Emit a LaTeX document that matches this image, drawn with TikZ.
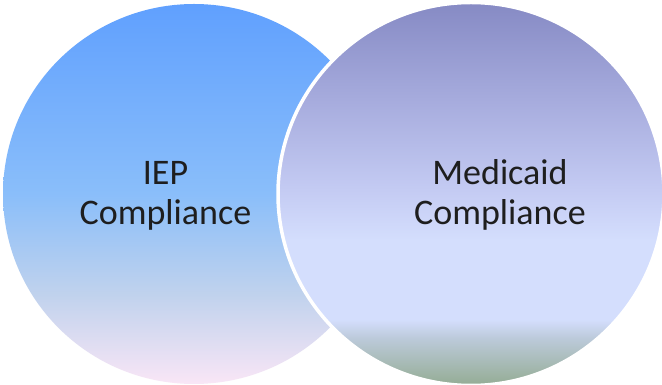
\documentclass[tikz,border=0pt]{standalone}
\usepackage{fontspec}
\setmainfont{Carlito}
\usepackage{tikz}

\definecolor{ieptop}{RGB}{96,160,254}
\definecolor{iepmid}{RGB}{138,190,250}
\definecolor{ieplow}{RGB}{192,210,237}
\definecolor{iepbot}{RGB}{249,230,246}
\definecolor{medtop}{RGB}{134,138,196}
\definecolor{medupper}{RGB}{166,171,221}
\definecolor{medmid}{RGB}{196,203,243}
\definecolor{medpale}{RGB}{212,222,253}
\definecolor{medgrey}{RGB}{188,202,218}
\definecolor{medbot}{RGB}{148,172,148}
\definecolor{labeltext}{RGB}{30,30,30}

% bbox of the path runs from 25bp (bottom) to 75bp (top)
\pgfdeclareverticalshading{iepfill}{100bp}{color(0bp)=(iepbot); color(25bp)=(iepbot);
  color(36.8bp)=(ieplow); color(50bp)=(iepmid); color(75bp)=(ieptop); color(100bp)=(ieptop)}
\pgfdeclareverticalshading{medfill}{100bp}{color(0bp)=(medbot); color(25bp)=(medbot);
  color(31.2bp)=(medgrey); color(33.6bp)=(medpale); color(44bp)=(medpale);
  color(50.5bp)=(medmid); color(62.4bp)=(medupper); color(75bp)=(medtop); color(100bp)=(medtop)}

\begin{document}
\begin{tikzpicture}[x=1pt,y=1pt,
		lbl/.style={anchor=base,inner sep=0pt,text=labeltext,font=\fontsize{36}{40}\selectfont}]
			\useasboundingbox (0,0) rectangle (662,385);
			\clip (0,0) rectangle (662,385);
			\fill[white] (0,0) rectangle (662,385);
			% the two sets
			\shade[shading=iepfill] (194,191) ellipse [x radius=191, y radius=190];
			\shadedraw[shading=medfill,draw=white,line width=3.5pt] (471,191) ellipse [x radius=193, y radius=191.5];
			% labels
			\node[lbl] (iep) at (165.5,200) {IEP};
			\node[lbl] (iepc) at (165.5,160) {Compliance};
			\node[lbl] (med) at (500,200) {Medicaid};
			\node[lbl] (medc) at (500,160) {Compliance};
		\end{tikzpicture}
\end{document}
